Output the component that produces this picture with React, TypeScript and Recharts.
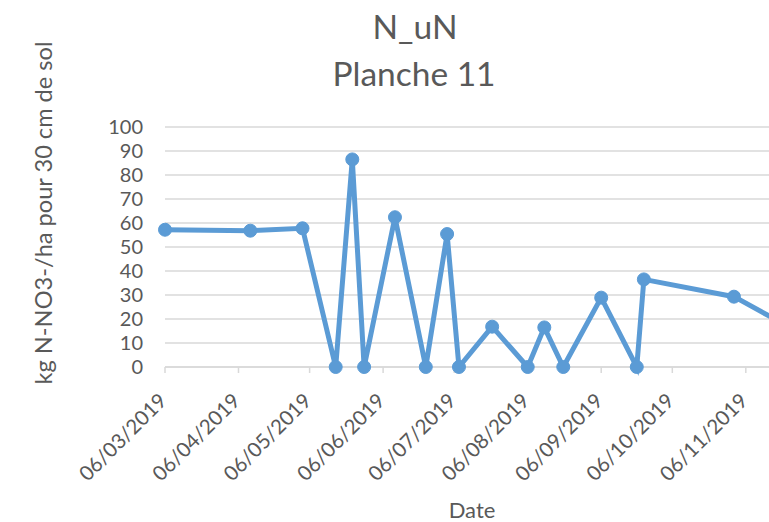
import { LineChart, Line, XAxis, YAxis, CartesianGrid, Label } from "recharts";

const dates = [
  "2019-03-06", "2019-04-11", "2019-05-03", "2019-05-17", "2019-05-24", "2019-05-29",
  "2019-06-11", "2019-06-24", "2019-07-03", "2019-07-08", "2019-07-22", "2019-08-06",
  "2019-08-13", "2019-08-21", "2019-09-06", "2019-09-21", "2019-09-24", "2019-11-01",
  "2019-11-20",
];
const nitrate = [57.2, 56.8, 57.8, 0, 86.5, 0, 62.4, 0, 55.4, 0, 16.8, 0, 16.5, 0, 28.9, 0, 36.5, 29.3, 19];

const tickDates = [
  "2019-03-06", "2019-04-06", "2019-05-06", "2019-06-06", "2019-07-06",
  "2019-08-06", "2019-09-06", "2019-10-06", "2019-11-06",
];
const yTicks = [0, 10, 20, 30, 40, 50, 60, 70, 80, 90, 100];

const toTs = (s: string) => Date.parse(s + "T00:00:00Z");

const data = dates.map((d, i) => ({ t: toTs(d), v: nitrate[i] }));

const FONT = "Lato, 'Open Sans', sans-serif";
const TEXT = "#595959";
const BLUE = "#5b9bd5";
const GRID = "#d9d9d9";

function fmtDate(ts: number): string {
  const d = new Date(ts);
  const dd = String(d.getUTCDate()).padStart(2, "0");
  const mm = String(d.getUTCMonth() + 1).padStart(2, "0");
  return `${dd}/${mm}/${d.getUTCFullYear()}`;
}

function DateTick(props: any) {
  const { x, y, payload } = props;
  const ax = x + 3;
  const ay = y + 27;
  return (
    <text
      x={ax}
      y={ay}
      transform={`rotate(-45, ${ax}, ${ay})`}
      textAnchor="end"
      fill={TEXT}
      fontSize={20.5}
      fontFamily={FONT}
    >
      {fmtDate(payload.value)}
    </text>
  );
}

export default function App() {
  return (
    <div
      style={{
        position: "fixed",
        left: 0,
        top: 0,
        width: 769,
        height: 522,
        overflow: "hidden",
        background: "#fff",
      }}
    >
      <svg width={830} height={100} style={{ position: "absolute", left: 0, top: 0 }}>
        <text x={415} y={39} textAnchor="middle" fill={TEXT} fontSize={33.5} fontFamily={FONT}>
          N_uN
        </text>
        <text x={414} y={86} textAnchor="middle" fill={TEXT} fontSize={33.5} fontFamily={FONT}>
          Planche 11
        </text>
      </svg>
      <div style={{ position: "absolute", left: 0, top: 0 }}>
        <LineChart width={830} height={522} data={data} margin={{ top: 127, right: 51, left: 0, bottom: 0 }}>
          <CartesianGrid horizontal vertical={false} stroke={GRID} strokeWidth={1.5} />
          <XAxis
            dataKey="t"
            type="number"
            scale="linear"
            domain={[toTs(dates[0]), toTs(dates[dates.length - 1])]}
            ticks={tickDates.map(toTs)}
            tick={<DateTick />}
            tickLine={{ stroke: GRID, strokeWidth: 1.5 }}
            tickSize={6}
            axisLine={{ stroke: GRID, strokeWidth: 1.5 }}
            height={155}
            interval={0}
          >
            <Label
              content={(p: any) => (
                <text x={p.viewBox.x + p.viewBox.width / 2} y={518} textAnchor="middle" fill={TEXT} fontSize={22} fontFamily={FONT}>
                  Date
                </text>
              )}
            />
          </XAxis>
          <YAxis
            type="number"
            domain={[0, 100]}
            ticks={yTicks}
            interval={0}
            width={165}
            axisLine={false}
            tickLine={false}
            tickMargin={16}
            tick={{ fill: TEXT, fontSize: 20, fontFamily: FONT }}
          >
            <Label
              content={() => (
                <text
                  x={52}
                  y={213}
                  transform="rotate(-90, 52, 213)"
                  textAnchor="middle"
                  fill={TEXT}
                  fontSize={23.6}
                  fontFamily={FONT}
                >
                  kg N-NO3-/ha pour 30 cm de sol
                </text>
              )}
            />
          </YAxis>
          <Line
            dataKey="v"
            type="linear"
            stroke={BLUE}
            strokeWidth={5}
            dot={{ r: 6.5, fill: BLUE, stroke: BLUE, strokeWidth: 1 }}
            activeDot={false}
            isAnimationActive={false}
          />
        </LineChart>
      </div>
    </div>
  );
}
